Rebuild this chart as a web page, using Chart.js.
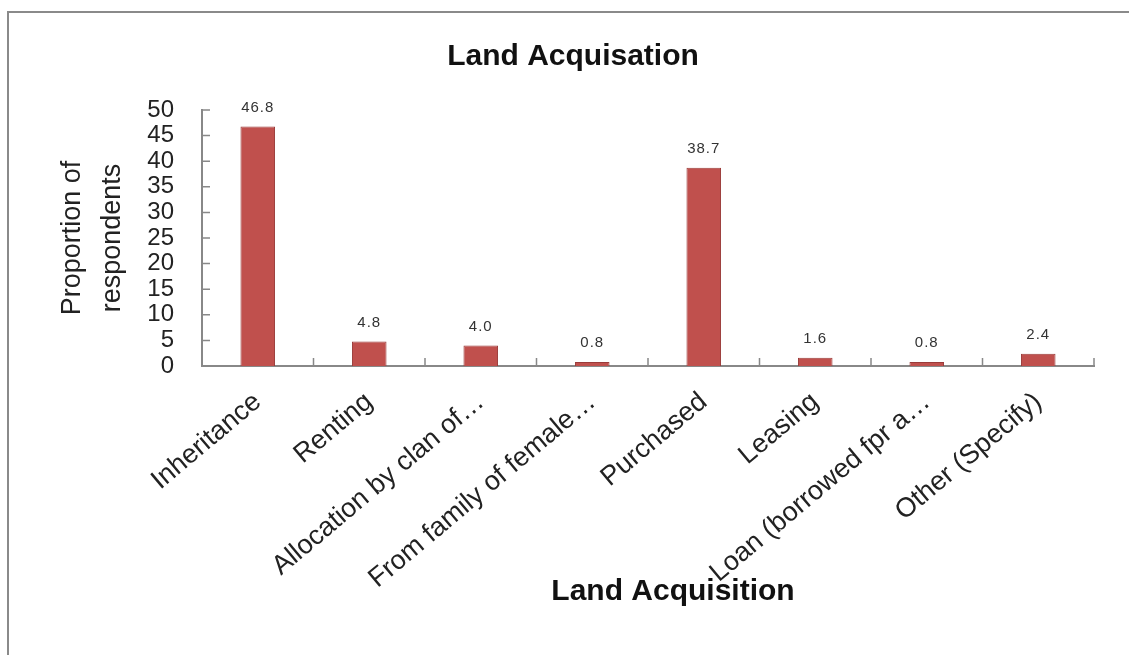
<!DOCTYPE html>
<html>
<head>
<meta charset="utf-8">
<script src="https://cdn.jsdelivr.net/npm/chart.js@4.4.0/dist/chart.umd.min.js"></script>
<style>
	html, body { margin: 0; padding: 0; background: #fff; }
	#frame { position: absolute; left: 7px; top: 11px; width: 1130px; height: 660px; border-top: 2px solid #8a8a8a; border-left: 2px solid #8a8a8a; }
	#wrap { position: absolute; left: 0; top: 0; width: 1129px; height: 655px; }
</style>
</head>
<body>
<div id="frame"></div>
<div id="wrap"><canvas id="myChart" width="1129" height="655"></canvas></div>
<script>
var categories = ['Inheritance', 'Renting', 'Allocation by clan of\u2026', 'From family of female\u2026', 'Purchased', 'Leasing', 'Loan (borrowed fpr a\u2026', 'Other (Specify)'];
var proportions = [46.8, 4.8, 4.0, 0.8, 38.7, 1.6, 0.8, 2.4];
var valueLabels = ['46.8', '4.8', '4.0', '0.8', '38.7', '1.6', '0.8', '2.4'];

var fontFamily = "'Liberation Sans', Arial, sans-serif";

// value labels above each bar
var barLabels = {
	id: 'barLabels',
	afterDatasetsDraw: function(chart) {
		var ctx = chart.ctx;
		var meta = chart.getDatasetMeta(0);
		ctx.save();
		ctx.font = '15px ' + fontFamily;
		ctx.fillStyle = '#333';
		ctx.textAlign = 'center';
		ctx.textBaseline = 'middle';
		if ('letterSpacing' in ctx) ctx.letterSpacing = '1px';
		meta.data.forEach(function(bar, i) {
			ctx.fillText(valueLabels[i], bar.x, bar.y - 19);
		});
		ctx.restore();
	}
};

// Excel style tick marks pointing into the plot
var insideTicks = {
	id: 'insideTicks',
	afterDraw: function(chart) {
		var ctx = chart.ctx;
		var xs = chart.scales.x;
		var ys = chart.scales.y;
		ctx.save();
		ctx.strokeStyle = '#888';
		ctx.lineWidth = 1.5;
		ctx.beginPath();
		var step = (xs.right - xs.left) / categories.length;
		for (var i = 1; i <= categories.length; i++) {
			var x = xs.left + i * step;
			ctx.moveTo(x, ys.bottom);
			ctx.lineTo(x, ys.bottom - 8);
		}
		ys.ticks.forEach(function(t) {
			if (t.value === 0) return;
			var y = ys.getPixelForValue(t.value);
			ctx.moveTo(xs.left, y);
			ctx.lineTo(xs.left + 8, y);
		});
		ctx.stroke();
		ctx.restore();
	}
};

var ctx = document.getElementById('myChart');
var myChart = new Chart(ctx, {
	type: 'bar',
	data: {
		labels: categories,
		datasets: [{
			label: 'Proportion of respondents',
			data: proportions,
			backgroundColor: '#c0504d',
			borderColor: '#9a3b39',
			borderWidth: 1,
			barPercentage: 0.31,
			categoryPercentage: 1
		}]
	},
	options: {
		responsive: false,
		maintainAspectRatio: false,
		animation: false,
		layout: { padding: { left: 52, right: 35, top: 0, bottom: 40 } },
		plugins: {
			legend: { display: false },
			tooltip: { enabled: false },
			title: {
				display: true,
				text: 'Land Acquisation',
				color: '#111',
				font: { family: fontFamily, size: 30, weight: 'bold' },
				padding: { top: 39, bottom: 35 }
			}
		},
		scales: {
			x: {
				grid: { display: false, drawTicks: false },
				border: { display: true, color: '#888', width: 2 },
				ticks: {
					color: '#222',
					font: { family: fontFamily, size: 27 },
					minRotation: 40,
					maxRotation: 40,
					autoSkip: false,
					padding: 20
				},
				title: {
					display: true,
					text: '      Land Acquisition',
					color: '#111',
					font: { family: fontFamily, size: 30, weight: 'bold' },
					padding: { top: 0, bottom: 5 }
				},
				afterFit: function(scale) { scale.height = 249; }
			},
			y: {
				min: 0,
				max: 50,
				grid: { display: false, drawTicks: false },
				border: { display: true, color: '#888', width: 2 },
				ticks: {
					stepSize: 5,
					autoSkip: false,
					color: '#222',
					font: { family: fontFamily, size: 24, lineHeight: 1 },
					padding: 28
				},
				title: {
					display: true,
					text: ['Proportion of', 'respondents'],
					color: '#222',
					font: { family: fontFamily, size: 27, lineHeight: 1.5 },
					padding: { top: 0, bottom: 0 }
				},
				afterFit: function(scale) { scale.width = 150; }
			}
		}
	},
	plugins: [barLabels, insideTicks]
});
</script>
</body>
</html>
